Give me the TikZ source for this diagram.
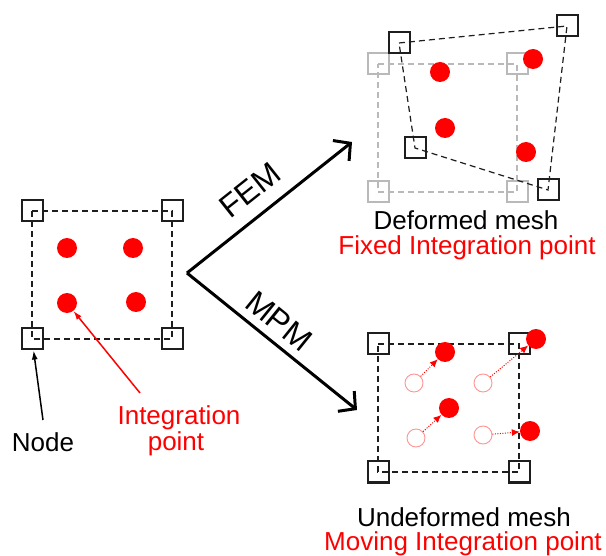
\documentclass[tikz,border=0pt]{standalone}
\usepackage{fontspec}
\setmainfont{Liberation Sans}
\usetikzlibrary{arrows.meta}
\definecolor{ipred}{RGB}{255,0,0}
\definecolor{ghost}{RGB}{255,150,150}
\definecolor{oldmesh}{RGB}{185,185,185}
\definecolor{ink}{RGB}{30,30,30}
\begin{document}
\begin{tikzpicture}[x=1pt,y=-1pt,
  meshnode/.style={shape=rectangle, draw=ink, line width=2pt, minimum size=21pt, inner sep=0pt},
  oldnode/.style={meshnode, draw=oldmesh},
  edge/.style={draw=ink, line width=1.2pt, dash pattern=on 6pt off 4pt},
  oldedge/.style={edge, draw=oldmesh},
  ip/.style={circle, fill=ipred, minimum size=20pt, inner sep=0pt},
  ipold/.style={circle, draw=ghost, line width=0.9pt, minimum size=18pt, inner sep=0pt},
  move/.style={draw=ipred, line width=1pt, dash pattern=on 1pt off 1.5pt, -{Latex[length=8pt,width=7pt]}},
  lbl/.style={font=\fontsize{26}{26}\selectfont, inner sep=0pt, anchor=base},
  method/.style={font=\fontsize{32}{32}\selectfont, inner sep=0pt},
  route/.style={line width=3pt, -{Straight Barb[length=12pt,width=26pt]}},
  pointer/.style={line width=1.5pt, -{Latex[length=9pt,width=6pt]}},
]
% canvas
\path[fill=white, use as bounding box] (0,0) rectangle (606,556);

% ---- initial element ----
\node[meshnode] (L1) at (32,211) {};
\node[meshnode] (L2) at (172,211) {};
\node[meshnode] (L3) at (32,339) {};
\node[meshnode] (L4) at (172,339) {};
\draw[edge] (L1.center) -- (L2.center) -- (L4.center) -- (L3.center) -- cycle;
\node[ip] (Lp1) at (67,248) {};
\node[ip] (Lp2) at (133,248) {};
\node[ip] (Lp3) at (67,303) {};
\node[ip] (Lp4) at (136,302) {};

\node[lbl] (nodetxt) at (43,452) {Node};
\node[lbl, text=ipred] (inttxt) at (179,425) {Integration};
\node[lbl, text=ipred] (pttxt) at (176,450) {point};
\coordinate (nodetail) at (43,420);
\coordinate (inttail) at (140,393);
\draw[pointer, draw=black] (nodetail) -- (L3);
\draw[pointer, draw=ipred] (inttail) -- (Lp3);

% ---- the two routes ----
\coordinate (fork) at (187,273);
\coordinate (femtip) at (352,142);
\coordinate (mpmtip) at (357,410);
\draw[route] (fork) -- (femtip);
\draw[route] (fork) -- (mpmtip);
\node[method, rotate=38.4] (femtxt) at (250,190) {FEM};
\node[method, rotate=-38.9] (mpmtxt) at (279,321) {MPM};

% ---- FEM: deformed mesh over the original one ----
\node[oldnode] (G1) at (378,64) {};
\node[oldnode] (G2) at (517,64) {};
\node[oldnode] (G3) at (378,192) {};
\node[oldnode] (G4) at (517,192) {};
\draw[oldedge] (G1.center) -- (G2.center) -- (G4.center) -- (G3.center) -- cycle;
\node[meshnode] (D1) at (399,43) {};
\node[meshnode] (D2) at (567,26) {};
\node[meshnode] (D3) at (415,148) {};
\node[meshnode] (D4) at (548,190) {};
\draw[edge] (D1.center) -- (D2.center) -- (D4.center) -- (D3.center) -- cycle;
\node[ip] (Dp1) at (440,72) {};
\node[ip] (Dp2) at (533,59) {};
\node[ip] (Dp3) at (445,128) {};
\node[ip] (Dp4) at (526,152) {};
\node[lbl] (deftxt) at (466,230) {Deformed mesh};
\node[lbl, text=ipred] (fixtxt) at (467,255) {Fixed Integration point};

% ---- MPM: undeformed mesh, moved points ----
\node[meshnode] (M1) at (378,344) {};
\node[meshnode] (M2) at (519,344) {};
\node[meshnode] (M3) at (378,472) {};
\node[meshnode] (M4) at (519,472) {};
\draw[edge] (M1.center) -- (M2.center) -- (M4.center) -- (M3.center) -- cycle;
\node[ipold] (H1) at (414,383) {};
\node[ipold] (H2) at (483,383) {};
\node[ipold] (H3) at (416,438) {};
\node[ipold] (H4) at (483,435) {};
\node[ip] (Mp1) at (445,352) {};
\node[ip] (Mp2) at (536,339) {};
\node[ip] (Mp3) at (449,408) {};
\node[ip] (Mp4) at (530,431) {};
\draw[move] (H1) -- (Mp1);
\draw[move] (H2) -- (Mp2);
\draw[move] (H3) -- (Mp3);
\draw[move] (H4) -- (Mp4);
\node[lbl] (undeftxt) at (464,526) {Undeformed mesh};
\node[lbl, text=ipred] (movtxt) at (463,550) {Moving Integration point};
\end{tikzpicture}
\end{document}
